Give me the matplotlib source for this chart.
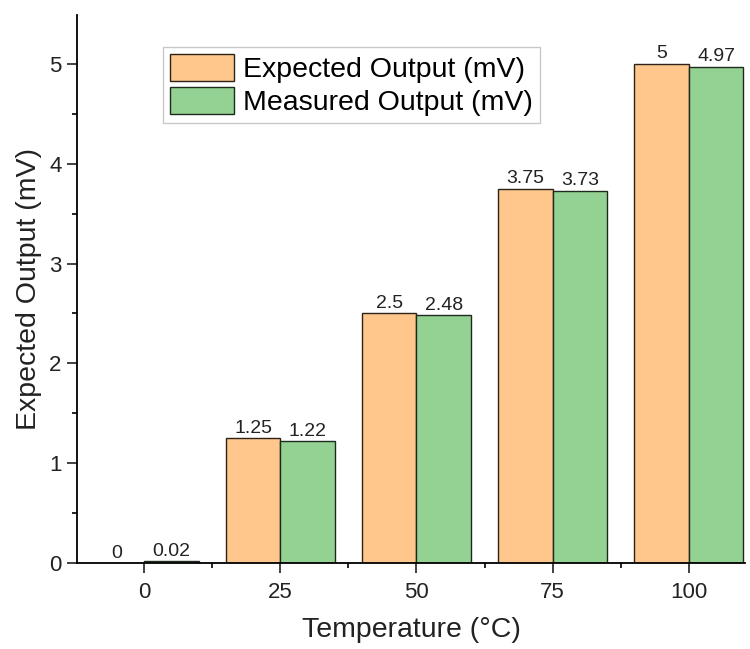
import matplotlib
matplotlib.use("Agg")
import matplotlib.pyplot as plt
import numpy as np
from matplotlib.ticker import MultipleLocator

temps = [0, 25, 50, 75, 100]
expected = [0, 1.25, 2.5, 3.75, 5]
measured = [0.02, 1.22, 2.48, 3.73, 4.97]
expected_lbl = ["0", "1.25", "2.5", "3.75", "5"]
measured_lbl = ["0.02", "1.22", "2.48", "3.73", "4.97"]

plt.rcParams["font.family"] = ["Liberation Sans", "DejaVu Sans"]

fig = plt.figure(figsize=(7.5, 6.49), dpi=100)
ax = fig.add_axes([0.1027, 0.1325, 0.8906, 0.8445])

x = np.array(temps, dtype=float)
w = 10
b1 = ax.bar(x - w / 2, expected, w, color="#FFC78C", edgecolor="#2b2218",
            linewidth=1, label="Expected Output (mV)", zorder=2)
b2 = ax.bar(x + w / 2, measured, w, color="#93D292", edgecolor="#1e2a1e",
            linewidth=1, label="Measured Output (mV)", zorder=2)
ax.bar_label(b1, labels=expected_lbl, padding=1, fontsize=14, color="#222222")
ax.bar_label(b2, labels=measured_lbl, padding=1, fontsize=14, color="#222222")

ax.set_xlim(-12.3, 110.3)
ax.set_ylim(0, 5.49)
ax.set_xticks(temps)
ax.xaxis.set_minor_locator(MultipleLocator(12.5))
ax.yaxis.set_major_locator(MultipleLocator(1))
ax.yaxis.set_minor_locator(MultipleLocator(0.5))
ax.tick_params(which="major", direction="out", length=7, width=1.2,
               labelsize=16, colors="#222222", pad=4)
ax.tick_params(axis="x", which="major", pad=7)
ax.tick_params(which="minor", direction="out", length=3.5, width=1.2)
ax.spines["top"].set_visible(False)
ax.spines["right"].set_visible(False)
ax.spines["left"].set_linewidth(1.3)
ax.spines["bottom"].set_linewidth(1.3)

ax.set_xlabel("Temperature (°C)", fontsize=20.5, color="#222222", labelpad=10)
ax.set_ylabel("Expected Output (mV)", fontsize=20.5, color="#222222", labelpad=5)

leg = ax.legend(loc="upper left", bbox_to_anchor=(0.129, 0.942), borderaxespad=0,
                fontsize=20.5, frameon=True, fancybox=False, shadow=False,
                handlelength=2.25, handleheight=1.1, labelspacing=0.12,
                handletextpad=0.3, borderpad=0.25)
leg.get_frame().set_edgecolor("#bbbbbb")
leg.get_frame().set_linewidth(1)

fig.savefig("out.png", dpi=100)
